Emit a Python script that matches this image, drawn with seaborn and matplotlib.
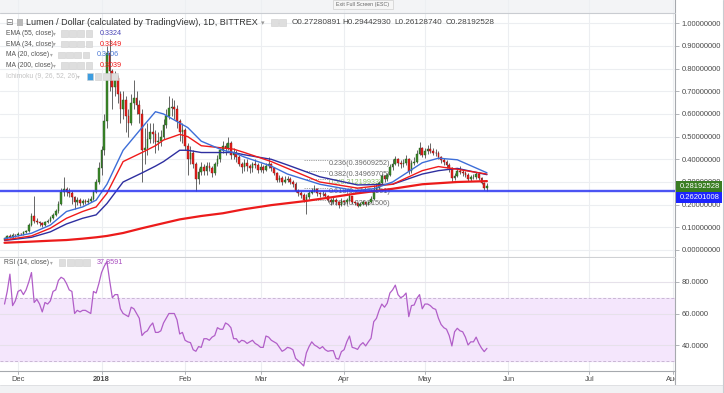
import numpy as np
import pandas as pd
import matplotlib
matplotlib.use("Agg")
import matplotlib.pyplot as plt
from matplotlib.patches import Rectangle
import matplotlib.ticker as mticker
import seaborn as sns

# ---- daily candles XLM/USD, 26 Nov 2017 - 24 May 2018 (opens = previous close) ----
first_open = 0.045
close_nov = [0.052, 0.061, 0.058, 0.066, 0.064]
high_nov = [0.056, 0.066, 0.072, 0.075, 0.070]
low_nov = [0.043, 0.050, 0.054, 0.055, 0.058]

close_dec = [0.072, 0.070, 0.078, 0.082, 0.110, 0.150, 0.130, 0.125, 0.118, 0.112, 0.122,
             0.128, 0.142, 0.155, 0.170, 0.205, 0.255, 0.268, 0.258, 0.252, 0.232, 0.212,
             0.220, 0.208, 0.216, 0.212, 0.218, 0.225, 0.255, 0.300, 0.360]
high_dec = [0.078, 0.076, 0.082, 0.088, 0.118, 0.165, 0.240, 0.140, 0.130, 0.122, 0.128,
            0.135, 0.148, 0.162, 0.180, 0.215, 0.275, 0.320, 0.280, 0.272, 0.260, 0.240,
            0.232, 0.228, 0.225, 0.225, 0.228, 0.240, 0.265, 0.315, 0.390]
low_dec = [0.062, 0.064, 0.068, 0.074, 0.080, 0.105, 0.118, 0.115, 0.108, 0.102, 0.108,
           0.118, 0.125, 0.138, 0.150, 0.165, 0.200, 0.240, 0.240, 0.235, 0.205, 0.180,
           0.200, 0.195, 0.200, 0.202, 0.205, 0.212, 0.220, 0.250, 0.290]

close_jan = [0.440, 0.570, 0.870, 0.790, 0.720, 0.760, 0.690, 0.620, 0.660, 0.590, 0.560,
             0.650, 0.670, 0.640, 0.600, 0.440, 0.450, 0.490, 0.520, 0.510, 0.475, 0.480,
             0.500, 0.550, 0.590, 0.625, 0.630, 0.620, 0.570, 0.520, 0.530]
high_jan = [0.460, 0.600, 0.900, 0.930, 0.800, 0.790, 0.770, 0.700, 0.700, 0.680, 0.620,
            0.690, 0.750, 0.700, 0.660, 0.620, 0.540, 0.560, 0.560, 0.560, 0.530, 0.520,
            0.530, 0.580, 0.620, 0.680, 0.670, 0.660, 0.640, 0.580, 0.560]
low_jan = [0.330, 0.420, 0.540, 0.700, 0.620, 0.680, 0.650, 0.560, 0.580, 0.520, 0.500,
           0.550, 0.620, 0.600, 0.560, 0.300, 0.380, 0.420, 0.470, 0.470, 0.430, 0.440,
           0.460, 0.490, 0.540, 0.580, 0.590, 0.580, 0.540, 0.480, 0.470]

close_feb = [0.460, 0.400, 0.430, 0.380, 0.315, 0.345, 0.365, 0.350, 0.370, 0.360, 0.340,
             0.380, 0.400, 0.440, 0.460, 0.450, 0.470, 0.420, 0.430, 0.410, 0.380, 0.365,
             0.385, 0.370, 0.360, 0.380, 0.375, 0.355]
high_feb = [0.540, 0.470, 0.460, 0.440, 0.390, 0.360, 0.390, 0.380, 0.390, 0.390, 0.370,
            0.390, 0.420, 0.450, 0.480, 0.470, 0.500, 0.480, 0.450, 0.440, 0.420, 0.390,
            0.400, 0.400, 0.380, 0.390, 0.400, 0.385]
low_feb = [0.440, 0.330, 0.380, 0.360, 0.262, 0.290, 0.330, 0.330, 0.330, 0.350, 0.320,
           0.330, 0.370, 0.390, 0.430, 0.420, 0.440, 0.400, 0.400, 0.390, 0.370, 0.340,
           0.350, 0.350, 0.340, 0.345, 0.360, 0.340]

close_mar = [0.365, 0.355, 0.370, 0.380, 0.362, 0.340, 0.310, 0.318, 0.300, 0.310, 0.312,
             0.300, 0.292, 0.262, 0.250, 0.242, 0.222, 0.232, 0.250, 0.262, 0.270, 0.252,
             0.245, 0.248, 0.238, 0.222, 0.212, 0.222, 0.210, 0.200, 0.218]
high_mar = [0.385, 0.375, 0.385, 0.410, 0.385, 0.365, 0.345, 0.330, 0.325, 0.325, 0.325,
            0.320, 0.310, 0.300, 0.270, 0.260, 0.250, 0.245, 0.262, 0.275, 0.285, 0.275,
            0.258, 0.262, 0.255, 0.242, 0.228, 0.232, 0.228, 0.218, 0.230]
low_mar = [0.345, 0.340, 0.350, 0.360, 0.350, 0.330, 0.300, 0.300, 0.285, 0.295, 0.300,
           0.290, 0.280, 0.255, 0.240, 0.228, 0.210, 0.160, 0.225, 0.245, 0.255, 0.240,
           0.232, 0.238, 0.228, 0.212, 0.200, 0.205, 0.200, 0.185, 0.195]

close_apr = [0.210, 0.222, 0.238, 0.212, 0.206, 0.196, 0.205, 0.212, 0.202, 0.212, 0.225,
             0.265, 0.275, 0.295, 0.325, 0.315, 0.330, 0.365, 0.380, 0.400, 0.385, 0.378,
             0.385, 0.400, 0.350, 0.385, 0.390, 0.425, 0.450, 0.420]
high_apr = [0.222, 0.230, 0.250, 0.240, 0.218, 0.210, 0.212, 0.220, 0.215, 0.218, 0.238,
            0.285, 0.295, 0.305, 0.335, 0.332, 0.340, 0.380, 0.400, 0.415, 0.405, 0.395,
            0.400, 0.420, 0.405, 0.395, 0.410, 0.440, 0.475, 0.455]
low_apr = [0.198, 0.205, 0.215, 0.205, 0.198, 0.188, 0.192, 0.198, 0.195, 0.198, 0.208,
           0.222, 0.255, 0.270, 0.290, 0.300, 0.305, 0.325, 0.355, 0.375, 0.370, 0.360,
           0.365, 0.375, 0.335, 0.340, 0.375, 0.385, 0.420, 0.410]

close_may = [0.435, 0.445, 0.438, 0.430, 0.428, 0.410, 0.395, 0.388, 0.375, 0.360, 0.318,
             0.328, 0.350, 0.345, 0.340, 0.330, 0.315, 0.322, 0.322, 0.335, 0.318, 0.295,
             0.27280891, 0.28192528]
high_may = [0.450, 0.465, 0.470, 0.448, 0.445, 0.435, 0.415, 0.405, 0.395, 0.385, 0.365,
            0.340, 0.362, 0.370, 0.355, 0.348, 0.338, 0.332, 0.335, 0.345, 0.340, 0.322,
            0.300, 0.29442930]
low_may = [0.405, 0.425, 0.428, 0.418, 0.415, 0.400, 0.385, 0.375, 0.360, 0.345, 0.300,
           0.310, 0.320, 0.335, 0.328, 0.320, 0.305, 0.305, 0.312, 0.315, 0.310, 0.290,
           0.265, 0.26128740]

# ---- RSI(14) daily ----
rsi_nov = [66, 74, 85, 65, 68]
rsi_dec = [74, 75, 72, 75, 80, 86, 67, 69, 66, 61, 67, 66, 68, 74, 75, 81, 83, 82, 79, 75,
           74, 60, 62, 61, 62, 62, 61, 60, 74, 73, 79]
rsi_jan = [86, 90, 93, 81, 70, 72, 72, 63, 60, 59, 58, 64, 63, 60, 57, 46, 48, 49, 52, 54,
           48, 48, 49, 54, 57, 60, 60, 60, 56, 47, 48]
rsi_feb = [43, 42, 41.5, 37, 36, 39, 38.5, 44, 44, 43, 45, 46, 51, 50, 50, 54, 53, 51, 44,
           44, 41.5, 43, 42.5, 41, 42, 43, 41, 40]
rsi_mar = [38.5, 38.5, 45.7, 45, 43, 42, 41, 38.5, 36, 37, 38.5, 38, 37, 31.5, 30, 28.5,
           26.7, 35, 39, 42, 40, 39, 37.7, 39, 37, 36, 36.4, 36.4, 31.5, 31, 35.8]
rsi_apr = [37, 42, 45.7, 38.5, 38, 37.2, 40, 41.5, 39.4, 42, 44.3, 54.8, 56.9, 62, 66, 64,
           66.5, 73, 75, 78, 72, 70, 71, 73, 58, 65, 65.4, 69.6, 72, 63]
rsi_may = [66, 66, 65, 63.3, 62.6, 57, 53, 51, 50, 46, 39.4, 48.4, 50.6, 49, 48.4, 45, 40,
           42, 42, 45, 41, 38, 35.8, 37.8591]

# ---- moving averages ----
ma200_dates = ["2017-11-26", "2017-12-06", "2017-12-13", "2017-12-19", "2017-12-25",
               "2017-12-30", "2018-01-03", "2018-01-09", "2018-01-16", "2018-01-21",
               "2018-01-30", "2018-02-07", "2018-02-15", "2018-02-23", "2018-03-05",
               "2018-03-17", "2018-03-27", "2018-04-06", "2018-04-19", "2018-04-30",
               "2018-05-13", "2018-05-24"]
ma200_vals = [0.032, 0.037, 0.041, 0.044, 0.050, 0.056, 0.062, 0.075, 0.096, 0.110, 0.135,
              0.150, 0.162, 0.180, 0.198, 0.215, 0.232, 0.250, 0.270, 0.290, 0.300, 0.3039]

ma20_dates = ["2017-11-26", "2017-12-06", "2017-12-13", "2017-12-19", "2017-12-25",
              "2017-12-30", "2018-01-03", "2018-01-09", "2018-01-16", "2018-01-21",
              "2018-01-24", "2018-01-30", "2018-02-02", "2018-02-07", "2018-02-15",
              "2018-02-19", "2018-02-23", "2018-03-05", "2018-03-11", "2018-03-23",
              "2018-04-05", "2018-04-12", "2018-04-19", "2018-04-30", "2018-05-06",
              "2018-05-13", "2018-05-24"]
ma20_vals = [0.050, 0.074, 0.110, 0.170, 0.190, 0.220, 0.290, 0.440, 0.540, 0.610, 0.600,
             0.560, 0.540, 0.480, 0.440, 0.430, 0.410, 0.370, 0.335, 0.290, 0.262, 0.270,
             0.300, 0.385, 0.405, 0.398, 0.3406]

ema_dates = ["2017-11-26", "2017-12-06", "2017-12-13", "2017-12-19", "2017-12-25",
             "2017-12-30", "2018-01-03", "2018-01-09", "2018-01-16", "2018-01-21",
             "2018-01-24", "2018-01-30", "2018-02-02", "2018-02-07", "2018-02-15",
             "2018-02-19", "2018-02-23", "2018-03-05", "2018-03-11", "2018-03-23",
             "2018-04-06", "2018-04-19", "2018-04-30", "2018-05-06", "2018-05-13",
             "2018-05-24"]
ema34_vals = [0.044, 0.062, 0.096, 0.140, 0.170, 0.190, 0.250, 0.390, 0.430, 0.460, 0.485,
              0.510, 0.500, 0.460, 0.450, 0.445, 0.430, 0.390, 0.360, 0.300, 0.273, 0.290,
              0.350, 0.368, 0.356, 0.3349]
ema55_vals = [0.042, 0.056, 0.080, 0.115, 0.140, 0.155, 0.205, 0.300, 0.340, 0.370, 0.390,
              0.440, 0.440, 0.430, 0.430, 0.430, 0.420, 0.400, 0.375, 0.323, 0.287, 0.290,
              0.335, 0.350, 0.360, 0.3324]

# horizontal line and fib retracement
hline_level = 0.26201008
fib_ratios = ["0.236", "0.382", "0.5", "0.618", "0.786"]
fib_levels = [0.39609252, 0.34969705, 0.31219933, 0.27470161, 0.22131506]
fib_colors = ["#6b6b6b", "#6b6b6b", "#8dc06a", "#6b6b6b", "#6b6b6b"]

month_ticks = ["2017-12-01", "2018-01-01", "2018-02-01", "2018-03-01", "2018-04-01",
               "2018-05-01", "2018-06-01", "2018-07-01", "2018-08-01"]
month_labels = ["Dec", "2018", "Feb", "Mar", "Apr", "May", "Jun", "Jul", "Aug"]

closes = close_nov + close_dec + close_jan + close_feb + close_mar + close_apr + close_may
highs = high_nov + high_dec + high_jan + high_feb + high_mar + high_apr + high_may
lows = low_nov + low_dec + low_jan + low_feb + low_mar + low_apr + low_may
rsi = rsi_nov + rsi_dec + rsi_jan + rsi_feb + rsi_mar + rsi_apr + rsi_may

df = pd.DataFrame({
    "date": pd.date_range("2017-11-26", periods=len(closes), freq="D"),
    "open": [first_open] + closes[:-1],
    "high": highs, "low": lows, "close": closes, "rsi": rsi,
})

# ---- figure ----
W, H = 724, 393
sns.set_style("white")
plt.rcParams['font.family'] = ['Liberation Sans', 'DejaVu Sans']

fig = plt.figure(figsize=(W / 100, H / 100), dpi=100)


def fx(px):
    return px / W


def fy(py):
    return 1 - py / H


AXR = 675
ax_p = fig.add_axes([0, fy(257), fx(AXR), 257 / H])
ax_r = fig.add_axes([0, fy(371), fx(AXR), (371 - 258) / H])
ax_t = fig.add_axes([0, fy(385), fx(AXR), (385 - 371) / H])

px_day = 2.695
x0 = pd.Timestamp("2017-12-01") - pd.Timedelta(days=18 / px_day)
x1 = x0 + pd.Timedelta(days=AXR / px_day)
months = pd.to_datetime(month_ticks)
GRID = "#eceef1"
AXC = "#a6a9ae"

for ax in (ax_p, ax_r, ax_t):
    ax.set_xlim(x0, x1)
    ax.set_facecolor("white")
    for s in ax.spines.values():
        s.set_visible(False)
    ax.spines["right"].set_visible(True)
    ax.spines["right"].set_color(AXC)
    ax.spines["right"].set_linewidth(0.8)
    ax.set_xticks([])

# price pane
ax_p.set_ylim((250 - 257) / 226.7, 250 / 226.7)
for m in months:
    ax_p.axvline(m, color=GRID, lw=0.8, zorder=0)
    ax_r.axvline(m, color=GRID, lw=0.8, zorder=0)
ticks = np.round(np.arange(0, 1.01, 0.1), 1)
for t in ticks:
    ax_p.axhline(t, color=GRID, lw=0.8, zorder=0)
ax_p.set_yticks(ticks)
ax_p.yaxis.set_major_formatter(mticker.FuncFormatter(lambda v, p: f"{v:.8f}"))
ax_p.yaxis.tick_right()
ax_p.tick_params(axis="y", length=3, width=0.6, color=AXC, labelsize=5.5,
                 labelcolor="#4a4a4a", pad=2)
ax_p.spines["bottom"].set_visible(True)
ax_p.spines["bottom"].set_color("#cfd1d4")
ax_p.spines["bottom"].set_linewidth(0.8)

# fib levels (under the candles)
fib_start, fib_end = pd.Timestamp("2018-03-17"), pd.Timestamp("2018-03-26")
for r, lv, c in zip(fib_ratios, fib_levels, fib_colors):
    ax_p.plot([fib_start, fib_end], [lv, lv], color="#9a9a9a", lw=0.6,
              ls=(0, (1.5, 1.2)), zorder=2)
    ax_p.text(fib_end + pd.Timedelta(days=0.3), lv, f"{r}({lv:.8f})", color=c,
              fontsize=5.2, va="top", ha="left", zorder=2)

# candles
UP, UP_E = "#3b8a2a", "#23561a"
DN, DN_E = "#e8201c", "#8a1010"
up = df["close"] >= df["open"]
for mask, fc, ec in [(up, UP, UP_E), (~up, DN, DN_E)]:
    d = df[mask]
    ax_p.vlines(d["date"], d["low"], d["high"], color="#4d4d4d", lw=0.6, zorder=3)
    body = (d["close"] - d["open"]).abs().clip(lower=0.002)
    ax_p.bar(d["date"], body, bottom=d[["open", "close"]].min(axis=1), width=0.62,
             color=fc, edgecolor=ec, linewidth=0.3, zorder=4)

# indicator lines
sns.lineplot(x=pd.to_datetime(ma200_dates), y=ma200_vals, ax=ax_p, color="#ec1b1b",
             lw=1.6, zorder=5)
sns.lineplot(x=pd.to_datetime(ema_dates), y=ema55_vals, ax=ax_p, color="#2e2fa0",
             lw=1.0, zorder=5)
sns.lineplot(x=pd.to_datetime(ema_dates), y=ema34_vals, ax=ax_p, color="#f01a1a",
             lw=1.0, zorder=5)
sns.lineplot(x=pd.to_datetime(ma20_dates), y=ma20_vals, ax=ax_p, color="#3d6ed8",
             lw=1.0, zorder=5)
ax_p.axhline(hline_level, color="#2b36f2", lw=1.7, alpha=0.85, zorder=6)
ax_p.set_xlim(x0, x1)
ax_p.set_xlabel("")
ax_p.set_ylabel("")

# RSI pane
ax_r.set_ylim(80 - (371 - 282) / 1.575, 80 + (282 - 258) / 1.575)
ax_r.axhspan(30, 70, color="#f4e6fc", zorder=0.5)
for lv in (40, 60, 80):
    ax_r.axhline(lv, color="#e6e1ea", lw=0.8, zorder=0.6)
for lv in (30, 70):
    ax_r.axhline(lv, color="#c9b7d4", lw=0.7, ls=(0, (3, 2)), zorder=1)
sns.lineplot(data=df, x="date", y="rsi", ax=ax_r, color="#b15ec8", lw=0.9, zorder=3)
ax_r.set_xlim(x0, x1)
ax_r.set_xlabel("")
ax_r.set_ylabel("")
ax_r.set_yticks([40, 60, 80])
ax_r.yaxis.set_major_formatter(mticker.FuncFormatter(lambda v, p: f"{v:.4f}"))
ax_r.yaxis.tick_right()
ax_r.tick_params(axis="y", length=3, width=0.6, color=AXC, labelsize=5.5,
                 labelcolor="#4a4a4a", pad=2)
ax_r.set_xticks([])

# time axis
ax_t.set_ylim(0, 1)
ax_t.set_yticks([])
ax_t.spines["top"].set_visible(True)
ax_t.spines["top"].set_color(AXC)
ax_t.spines["top"].set_linewidth(0.8)
for m, lab in zip(months, month_labels):
    ax_t.plot([m, m], [1, 0.78], color=AXC, lw=0.6, clip_on=True)
    ax_t.text(m, 0.42, lab, ha="center", va="center", fontsize=5.4, color="#4a4a4a",
              fontweight="bold" if lab == "2018" else "normal", clip_on=True)


# price labels on the right axis
def price_y(v):
    return H - ax_p.transData.transform((0, v))[1]


gy = price_y(closes[-1])
for yc, txt, col in [(gy, f"{closes[-1]:.8f}", "#3a7d22"),
                     (gy + 11, f"{hline_level:.8f}", "#1d24ff")]:
    fig.add_artist(Rectangle((fx(676), fy(yc + 5.5)), fx(46), 11 / H,
                             transform=fig.transFigure, facecolor=col, edgecolor="none",
                             zorder=10))
    fig.text(fx(680), fy(yc), txt, color="white", fontsize=5.5, va="center", ha="left",
             zorder=11)

# top strip, bottom strip
fig.add_artist(Rectangle((0, fy(12.5)), fx(AXR), 12.5 / H, transform=fig.transFigure,
                         facecolor="#eef0f3", edgecolor="none", alpha=0.7))
fig.add_artist(plt.Line2D([0, fx(AXR)], [fy(12.5), fy(12.5)], transform=fig.transFigure,
                          color="#c9ccd1", lw=0.8))
fig.add_artist(Rectangle((0, 0), 1, 8 / H, transform=fig.transFigure,
                         facecolor="#f1f2f4", edgecolor="none"))
fig.add_artist(plt.Line2D([0, 1], [8 / H, 8 / H], transform=fig.transFigure,
                          color="#dcdde0", lw=0.6))
fig.add_artist(plt.Line2D([fx(722.5), fx(722.5)], [0, 1], transform=fig.transFigure,
                          color="#c9ccd1", lw=0.8))
fig.add_artist(Rectangle((fx(333), fy(9)), fx(60), 8.5 / H, transform=fig.transFigure,
                         facecolor="#f6f6f6", edgecolor="#cfcfcf", lw=0.5))
fig.text(fx(363), fy(4.8), "Exit Full Screen (ESC)", fontsize=3.8, color="#666666",
         ha="center", va="center")


def icons(px, py, n, first=None):
    for i in range(n):
        fc = first if (first is not None and i == 0) else "#dedede"
        fig.add_artist(Rectangle((fx(px + i * 8.2), fy(py + 3.4)), fx(6.8), 6.8 / H,
                                 transform=fig.transFigure, facecolor=fc,
                                 edgecolor="#cfcfcf", lw=0.4))


# header
fig.text(fx(5.5), fy(22.7), "⊟", fontsize=6.5, color="#777777", va="center",
         family=["DejaVu Sans"])
fig.add_artist(Rectangle((fx(17), fy(26)), fx(6), 6.5 / H, transform=fig.transFigure,
                         facecolor="#b9b9b9", edgecolor="none"))
fig.text(fx(26), fy(22.7), "Lumen / Dollar (calculated by TradingView), 1D, BITTREX",
         fontsize=6.45, color="#333333", va="center")
fig.text(fx(261), fy(22.7), "▾", fontsize=5, color="#999999", va="center",
         family=["DejaVu Sans"])
icons(271, 22.7, 2)
ohlc = [("O", df["open"].iloc[-1]), ("H", highs[-1]), ("L", lows[-1]), ("C", closes[-1])]
for i, (k, v) in enumerate(ohlc):
    fig.text(fx(291.5 + i * 51.3), fy(22.7), f"{k}{v:.8f}", fontsize=5.9, color="#444444",
             va="center")

# indicator legend rows
rows = [("EMA (55, close)", 33.3, f"{ema55_vals[-1]:.4f}", "#4b46b8", 61, 99.3),
        ("EMA (34, close)", 44.0, f"{ema34_vals[-1]:.4f}", "#f01a1a", 61, 99.3),
        ("MA (20, close)", 55.0, f"{ma20_vals[-1]:.4f}", "#4a78d6", 58, 96.7),
        ("MA (200, close)", 65.7, f"{ma200_vals[-1]:.4f}", "#f01a1a", 61, 99.3)]
for lab, yy, val, col, ix, vx in rows:
    fig.text(fx(6), fy(yy), lab, fontsize=4.9, color="#555555", va="center")
    fig.text(fx(ix - 8.5), fy(yy), "▾", fontsize=4, color="#aaaaaa", va="center",
             family=["DejaVu Sans"])
    icons(ix, yy, 4)
    fig.text(fx(vx), fy(yy), val, fontsize=5.2, color=col, va="center")
fig.text(fx(6), fy(76.3), "Ichimoku (9, 26, 52, 26)", fontsize=4.9, color="#c3c3c3",
         va="center")
fig.text(fx(77), fy(76.3), "▾", fontsize=4, color="#c3c3c3", va="center",
         family=["DejaVu Sans"])
icons(86.5, 76.3, 4, first="#3d9de0")

# RSI legend
fig.text(fx(3.5), fy(262.7), "RSI (14, close)", fontsize=4.9, color="#555555", va="center")
fig.text(fx(50), fy(262.7), "▾", fontsize=4, color="#aaaaaa", va="center",
         family=["DejaVu Sans"])
icons(58.5, 262.7, 4)
fig.text(fx(96.7), fy(262.7), f"{rsi[-1]:.4f}", fontsize=5.2, color="#a94fc0", va="center")

fig.savefig("out.png", dpi=100)
